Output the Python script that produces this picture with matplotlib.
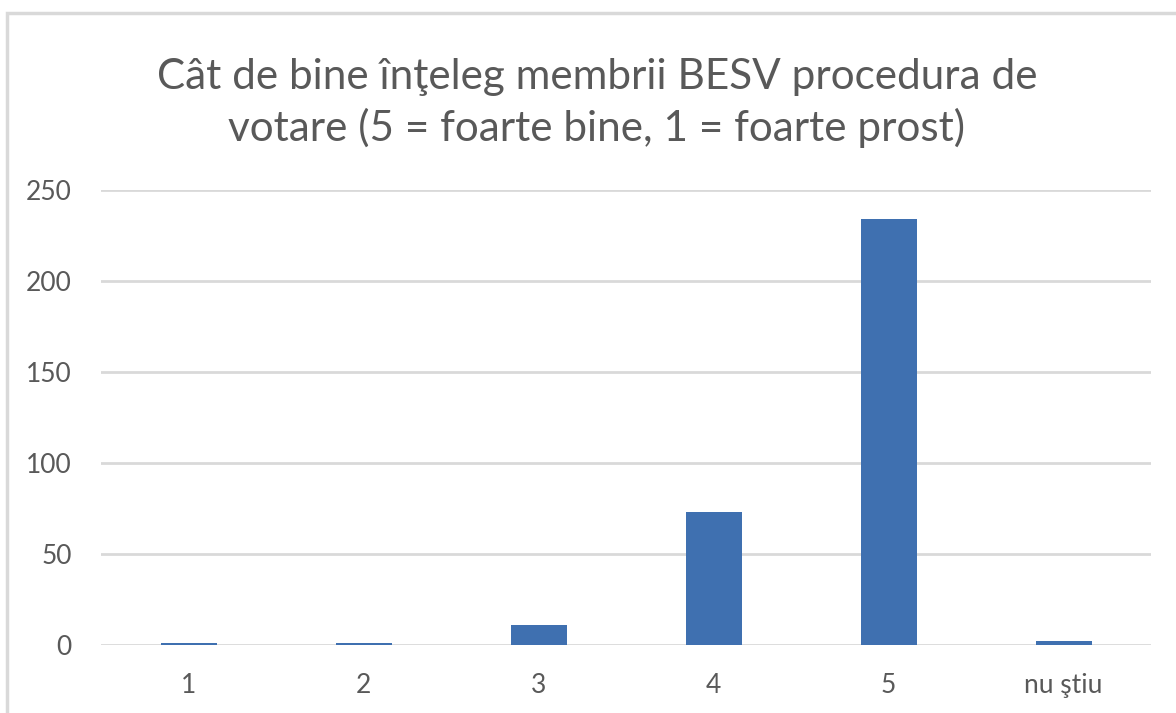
import matplotlib
matplotlib.use("Agg")
import matplotlib.pyplot as plt
from matplotlib.patches import Rectangle

categories = ["1", "2", "3", "4", "5", "nu ştiu"]
values = [1, 1, 11, 73, 234, 2]
yticks = [0, 50, 100, 150, 200, 250]
title = "Cât de bine înţeleg membrii BESV procedura de\nvotare (5 = foarte bine, 1 = foarte prost)"

plt.rcParams['font.family'] = ['Lato', 'DejaVu Sans']

fig = plt.figure(figsize=(11.76, 7.13), dpi=100)
W, H = 1176, 713

# chart border
fig.patches.append(Rectangle((7 / W, -0.1), 1.2, 1 - 13 / H + 0.1, transform=fig.transFigure,
                             fill=False, edgecolor='#d9d9d9', linewidth=2.5))

ax = fig.add_axes([101 / W, (H - 645) / H, 1050 / W, 455 / H])
x = list(range(len(categories)))
ax.bar(x, values, width=0.32, color='#3F70B0', zorder=3)
ax.set_xlim(-0.5, len(categories) - 0.5)
ax.set_ylim(0, 250)
ax.set_yticks(yticks)
ax.set_xticks(x)
ax.set_xticklabels(categories)
ax.grid(axis='y', color='#d9d9d9', linewidth=2, zorder=0)
ax.set_axisbelow(True)
for s in ax.spines.values():
    s.set_visible(False)
ax.tick_params(axis='both', length=0, labelsize=19, colors='#595959')
ax.tick_params(axis='y', pad=21)
ax.tick_params(axis='x', pad=20)

fig.text(597 / W, 1 - 103 / H, title, ha='center', va='center', fontsize=30.4,
         color='#595959', linespacing=1.33)

fig.savefig("out.png", dpi=100)
